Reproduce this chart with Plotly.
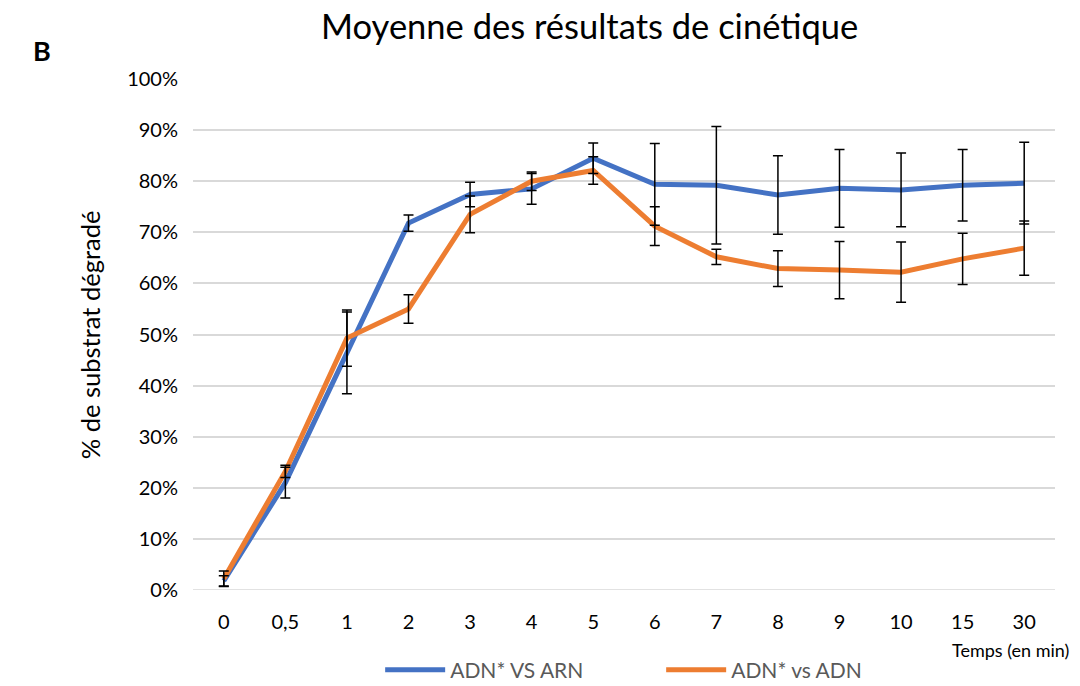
import plotly.graph_objects as go

# Kinetics data: % of substrate degraded over time (mean ± error)
temps = ["0", "0,5", "1", "2", "3", "4", "5", "6", "7", "8", "9", "10", "15", "30"]

adn_arn = [0.018, 0.210, 0.464, 0.718, 0.774, 0.785, 0.845, 0.794, 0.792, 0.773, 0.786, 0.783, 0.792, 0.796]
adn_arn_err = [0.010, 0.030, 0.080, 0.016, 0.024, 0.030, 0.030, 0.080, 0.115, 0.077, 0.076, 0.072, 0.070, 0.080]

adn_adn = [0.022, 0.232, 0.493, 0.550, 0.735, 0.800, 0.821, 0.712, 0.652, 0.629, 0.626, 0.622, 0.648, 0.669]
adn_adn_err = [0.015, 0.012, 0.055, 0.028, 0.036, 0.018, 0.027, 0.038, 0.015, 0.035, 0.056, 0.059, 0.050, 0.053]

BLUE = "#4472C4"
ORANGE = "#ED7D31"
FONT = "Lato"

fig = go.Figure()

for name, vals, color in [("ADN* VS ARN", adn_arn, BLUE), ("ADN* vs ADN", adn_adn, ORANGE)]:
    fig.add_trace(go.Scatter(
        x=temps, y=vals, name=name, mode="lines",
        line=dict(color=color, width=5),
    ))

# Error bars drawn above the lines
for vals, errs in [(adn_arn, adn_arn_err), (adn_adn, adn_adn_err)]:
    fig.add_trace(go.Scatter(
        x=temps, y=vals, mode="markers", showlegend=False, hoverinfo="skip",
        marker=dict(size=1, opacity=0),
        error_y=dict(type="data", array=errs, visible=True,
                     color="black", thickness=1.5, width=5),
    ))

fig.update_layout(
    width=1080, height=686,
    paper_bgcolor="white", plot_bgcolor="white",
    margin=dict(l=193, r=25, t=79, b=96, autoexpand=False),
    font=dict(family=FONT, color="black", size=20),
    title=dict(text="Moyenne des résultats de cinétique", x=0.546, xanchor="center",
               y=0.9606, yanchor="middle", font=dict(size=34.5, color="black", family=FONT)),
    xaxis=dict(
        type="category", range=[-0.5, len(temps) - 0.5],
        showgrid=False, zeroline=False, showline=False,
        ticks="", ticklabelstandoff=18, tickfont=dict(size=20, color="black"),
    ),
    yaxis=dict(
        range=[0, 1.0], dtick=0.1, tickformat=".0%",
        showgrid=True, gridcolor="#D9D9D9", gridwidth=1.5,
        zeroline=False, showline=False, ticks="", ticklabelstandoff=14,
        tickfont=dict(size=20, color="black"),
    ),
    legend=dict(orientation="h", xref="container", yref="container",
                x=0.352, xanchor="left", y=0.0233, yanchor="middle",
                font=dict(size=21, color="#595959"), itemwidth=60, tracegroupgap=0,
                entrywidth=206, entrywidthmode="pixels"),
    showlegend=True,
)

# Bottom gridline at 0%
fig.add_shape(type="line", xref="paper", yref="y", x0=0, x1=1, y0=0, y1=0,
              line=dict(color="#D9D9D9", width=1.5), layer="below")

fig.add_annotation(text="% de substrat dégradé", xref="paper", yref="paper",
                   x=-0.139, y=0.499, textangle=-90, showarrow=False,
                   font=dict(size=25.5, color="black", family=FONT))
fig.add_annotation(text="Temps (en min)", xref="paper", yref="paper",
                   x=0.948, xanchor="center", y=-0.1174, yanchor="middle", showarrow=False,
                   font=dict(size=18, color="black", family=FONT))
fig.add_annotation(text="<b>B</b>", xref="paper", yref="paper",
                   x=-0.188, y=1.092, showarrow=False,
                   font=dict(size=27, color="black", family=FONT))

fig.write_html("out.html")
